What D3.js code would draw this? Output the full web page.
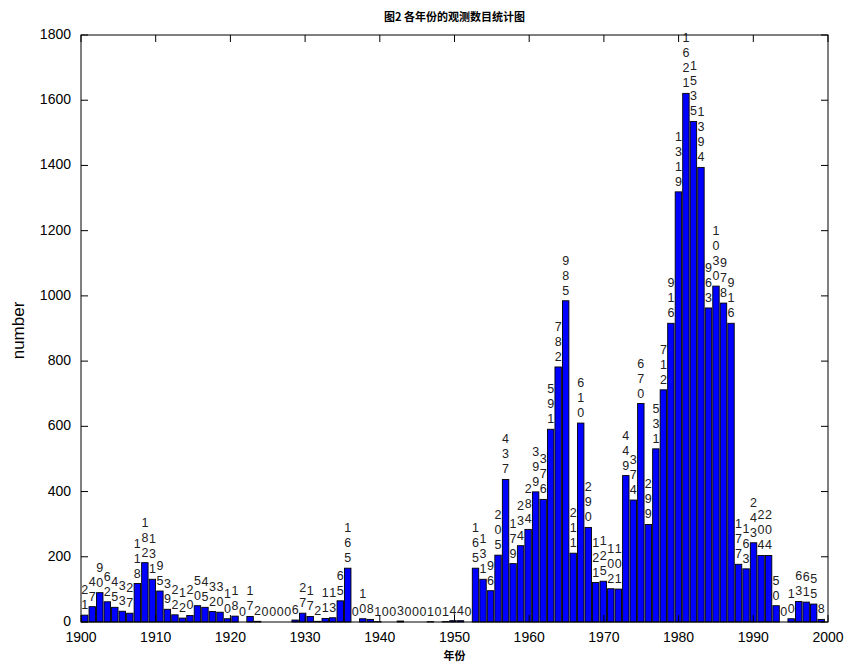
<!DOCTYPE html>
<html>
<head>
<meta charset="utf-8">
<script src="https://cdn.jsdelivr.net/npm/d3@7/dist/d3.min.js"></script>
<style>
  body { margin: 0; background: #fff; }
  text { font-family: "Liberation Sans", Arial, sans-serif; }
</style>
</head>
<body>
<div id="chart"></div>
<script>
// years 1900..1998, one bar each
var years = d3.range(1900, 1999);
var counts = [21, 47, 90, 62, 45, 33, 27, 118, 182, 131,
  95, 39, 22, 12, 20, 50, 45, 32, 30, 10,
  18, 0, 17, 2, 0, 0, 0, 0, 6, 27,
  17, 2, 11, 13, 65, 165, 0, 10, 8, 1,
  0, 0, 3, 0, 0, 0, 1, 0, 1, 4,
  4, 0, 165, 131, 96, 205, 437, 179, 234, 284,
  399, 376, 591, 782, 985, 211, 610, 290, 121, 125,
  102, 101, 449, 374, 670, 299, 531, 712, 916, 1319,
  1621, 1535, 1394, 963, 1030, 978, 916, 177, 163, 243,
  204, 204, 50, 0, 10, 63, 61, 55, 8];
var xTicks = [1900, 1910, 1920, 1930, 1940, 1950, 1960, 1970, 1980, 1990, 2000];
var yTicks = [0, 200, 400, 600, 800, 1000, 1200, 1400, 1600, 1800];
var titleText = "图2 各年份的观测数目统计图";
var xLabel = "年份";
var yLabel = "number";

function barChart(parent, width, height) {
  var left = 81, right = 828, top = 35, bottom = 622,
    tick = 7,
    binW = 1.006,
    barW = 0.86;

  var x = d3.scaleLinear().domain([1900, 2000]).range([left, right]);
  var y = d3.scaleLinear().domain([0, 1800]).range([bottom, top]);

  // histogram bin centre
  function cen(i) { return x(1900.5 + i * binW); }

  var svg = d3.select(parent)
    .append("svg")
    .attr("width", width)
    .attr("height", height);

  var data = years.map(function(d, i) { return {year: d, i: i, v: counts[i]}; });
  var bw = x(1900 + barW) - x(1900);

  svg.selectAll("rect.bar")
    .data(data)
    .enter()
    .append("rect")
    .attr("class", "bar")
    .attr("x", function(d) { return cen(d.i) - bw / 2; })
    .attr("y", function(d) { return y(d.v); })
    .attr("width", bw)
    .attr("height", function(d) { return bottom - y(d.v); })
    .attr("fill", "#0000ff")
    .attr("stroke", "#000")
    .attr("stroke-width", 0.9);

  // value labels, one digit per line
  var lab = svg.selectAll("text.val")
    .data(data)
    .enter()
    .append("text")
    .attr("class", "val")
    .attr("font-size", "12.5px")
    .attr("fill", "#222")
    .attr("text-anchor", "middle");

  lab.each(function(d) {
    var digits = String(d.v).split("");
    var cx = cen(d.i);
    var base = y(d.v) - 6 - (digits.length - 1) * 15;
    var t = d3.select(this);
    digits.forEach(function(c, j) {
      t.append("tspan").attr("x", cx).attr("y", base + j * 15).text(c);
    });
  });

  // box
  svg.append("rect")
    .attr("x", left).attr("y", top)
    .attr("width", right - left).attr("height", bottom - top)
    .attr("fill", "none").attr("stroke", "#000").attr("stroke-width", 1);

  var gx = svg.append("g");
  xTicks.forEach(function(t) {
    gx.append("line").attr("x1", x(t)).attr("x2", x(t))
      .attr("y1", bottom).attr("y2", bottom - tick).attr("stroke", "#000");
    gx.append("line").attr("x1", x(t)).attr("x2", x(t))
      .attr("y1", top).attr("y2", top + tick).attr("stroke", "#000");
    gx.append("text").attr("x", x(t)).attr("y", bottom + 20)
      .attr("text-anchor", "middle").attr("font-size", "14px").text(t);
  });

  var gy = svg.append("g");
  yTicks.forEach(function(t) {
    gy.append("line").attr("x1", left).attr("x2", left + tick)
      .attr("y1", y(t)).attr("y2", y(t)).attr("stroke", "#000");
    gy.append("line").attr("x1", right).attr("x2", right - tick)
      .attr("y1", y(t)).attr("y2", y(t)).attr("stroke", "#000");
    gy.append("text").attr("x", left - 10).attr("y", y(t) + 4)
      .attr("text-anchor", "end").attr("font-size", "14px").text(t);
  });

  svg.append("text")
    .attr("x", (left + right) / 2).attr("y", 21)
    .attr("text-anchor", "middle")
    .attr("font-size", "11px").attr("font-weight", "bold")
    .style("font-family", "'Noto Sans CJK SC', sans-serif")
    .text(titleText);

  svg.append("text")
    .attr("x", (left + right) / 2).attr("y", 660)
    .attr("text-anchor", "middle")
    .attr("font-size", "11px").attr("font-weight", "bold")
    .style("font-family", "'Noto Sans CJK SC', sans-serif")
    .text(xLabel);

  svg.append("text")
    .attr("transform", "translate(24," + ((top + bottom) / 2 + 2) + ") rotate(-90)")
    .attr("text-anchor", "middle")
    .attr("font-size", "17px")
    .text(yLabel);

  return barChart;
}

barChart("#chart", 847, 663);
</script>
</body>
</html>
